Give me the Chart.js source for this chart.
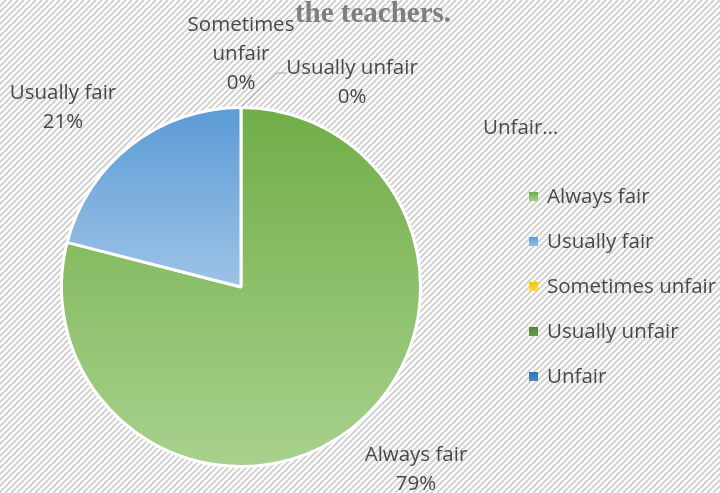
<!DOCTYPE html>
<html>
<head>
<meta charset="utf-8">
<script src="https://cdn.jsdelivr.net/npm/chart.js@4/dist/chart.umd.min.js"></script>
<style>
html,body{margin:0;padding:0;background:#ffffff;}
#wrap{position:relative;width:720px;height:493px;}
</style>
</head>
<body>
<div id="wrap"><canvas id="pie"></canvas></div>
<script>
// data
const categories = ["Always fair", "Usually fair", "Sometimes unfair", "Usually unfair", "Unfair"];
const shares = [79, 21, 0, 0, 0];
const titleText = "the teachers.";

const topColors = ["#70AD47", "#5B9BD5", "#FFC000", "#548235", "#2E75B6"];
const bottomColors = ["#A9D18E", "#9DC3E6", "#FFD966", "#6E9F4B", "#4F8BC9"];

const textColor = "#484848";
const labelFont = "20.5px 'Open Sans'";

// where each data label sits (centre x, first line y) - best fit like the original
const labelSpots = [
{x:416, y:455, lines:["Always fair"]},
{x:63, y:93, lines:["Usually fair"]},
{x:241, y:25, lines:["Sometimes","unfair"]},
{x:352, y:68, lines:["Usually unfair"]},
{x:483, y:128, lines:["Unfair…"], left:true, noPct:true}
];

function sliceGradient(c){
const chart = c.chart;
const area = chart.chartArea;
const i = c.dataIndex;
if(!area) return topColors[i];
let cx = (area.left+area.right)/2;
let cy = (area.top+area.bottom)/2;
let r = Math.min(area.right-area.left, area.bottom-area.top)/2;
let total = shares.reduce((a,b)=>a+b,0);
let before = 0;
for(let k=0;k<i;k++) before += shares[k];
let a0 = -Math.PI/2 + 2*Math.PI*before/total;
let a1 = a0 + 2*Math.PI*shares[i]/total;
let minY = cy, maxY = cy;
for(let s=0;s<=90;s++){
let a = a0 + (a1-a0)*s/90;
let y = cy + r*Math.sin(a);
if(y<minY) minY=y;
if(y>maxY) maxY=y;
}
if(maxY-minY<1) maxY = minY+1;
let g = chart.ctx.createLinearGradient(0,minY,0,maxY);
g.addColorStop(0, topColors[i]);
g.addColorStop(1, bottomColors[i]);
return g;
}

const decor = {
id:"decor",
beforeDraw(chart){
// light diagonal hatching behind the chart
const ctx = chart.ctx;
let w = chart.width, h = chart.height;
ctx.save();
ctx.fillStyle = "#ffffff";
ctx.fillRect(0,0,w,h);
ctx.strokeStyle = "#d2d2d2";
ctx.lineWidth = 2;
for(let k=-h; k<w+h; k+=6){
ctx.beginPath();
ctx.moveTo(k,h);
ctx.lineTo(k+h,0);
ctx.stroke();
}
ctx.restore();
},
afterDraw(chart){
const ctx = chart.ctx;
ctx.save();

// title, first line is outside the picture
ctx.fillStyle = "#7F7F7F";
ctx.font = "bold 29px 'Liberation Serif'";
ctx.textAlign = "center";
ctx.textBaseline = "alphabetic";
ctx.fillText(titleText, 373, 22);

// leader line for the tiny slices
ctx.strokeStyle = "#A6A6A6";
ctx.lineWidth = 1;
ctx.beginPath();
ctx.moveTo(241,107);
ctx.lineTo(277,73);
ctx.lineTo(286,73);
ctx.stroke();

// data labels
let total = shares.reduce((a,b)=>a+b,0);
ctx.font = labelFont;
ctx.fillStyle = textColor;
ctx.textBaseline = "middle";
labelSpots.forEach((s,i)=>{
let lines = s.lines.slice();
if(!s.noPct) lines.push(Math.round(shares[i]/total*100) + "%");
ctx.textAlign = s.left ? "left" : "center";
lines.forEach((t,j)=>{
ctx.fillText(t, s.x, s.y + j*29);
});
});

// legend
ctx.textAlign = "left";
categories.forEach((name,i)=>{
let y = 197 + i*45;
let g = ctx.createLinearGradient(0,y-5,0,y+5);
g.addColorStop(0, topColors[i]);
g.addColorStop(1, bottomColors[i]);
ctx.fillStyle = g;
ctx.fillRect(529, y-5, 9, 9);
ctx.fillStyle = textColor;
ctx.fillText(name, 547, y);
});

ctx.restore();
}
};

new Chart(document.getElementById("pie"), {
type: "pie",
data: {
labels: categories,
datasets: [{
data: shares,
backgroundColor: sliceGradient,
borderColor: "#ffffff",
borderWidth: 3
}]
},
options: {
responsive: true,
maintainAspectRatio: false,
animation: false,
layout: { padding: { top:105, bottom:24, left:60, right:298 } },
plugins: {
legend: { display:false },
tooltip: { enabled:false }
}
},
plugins: [decor]
});
</script>
</body>
</html>
